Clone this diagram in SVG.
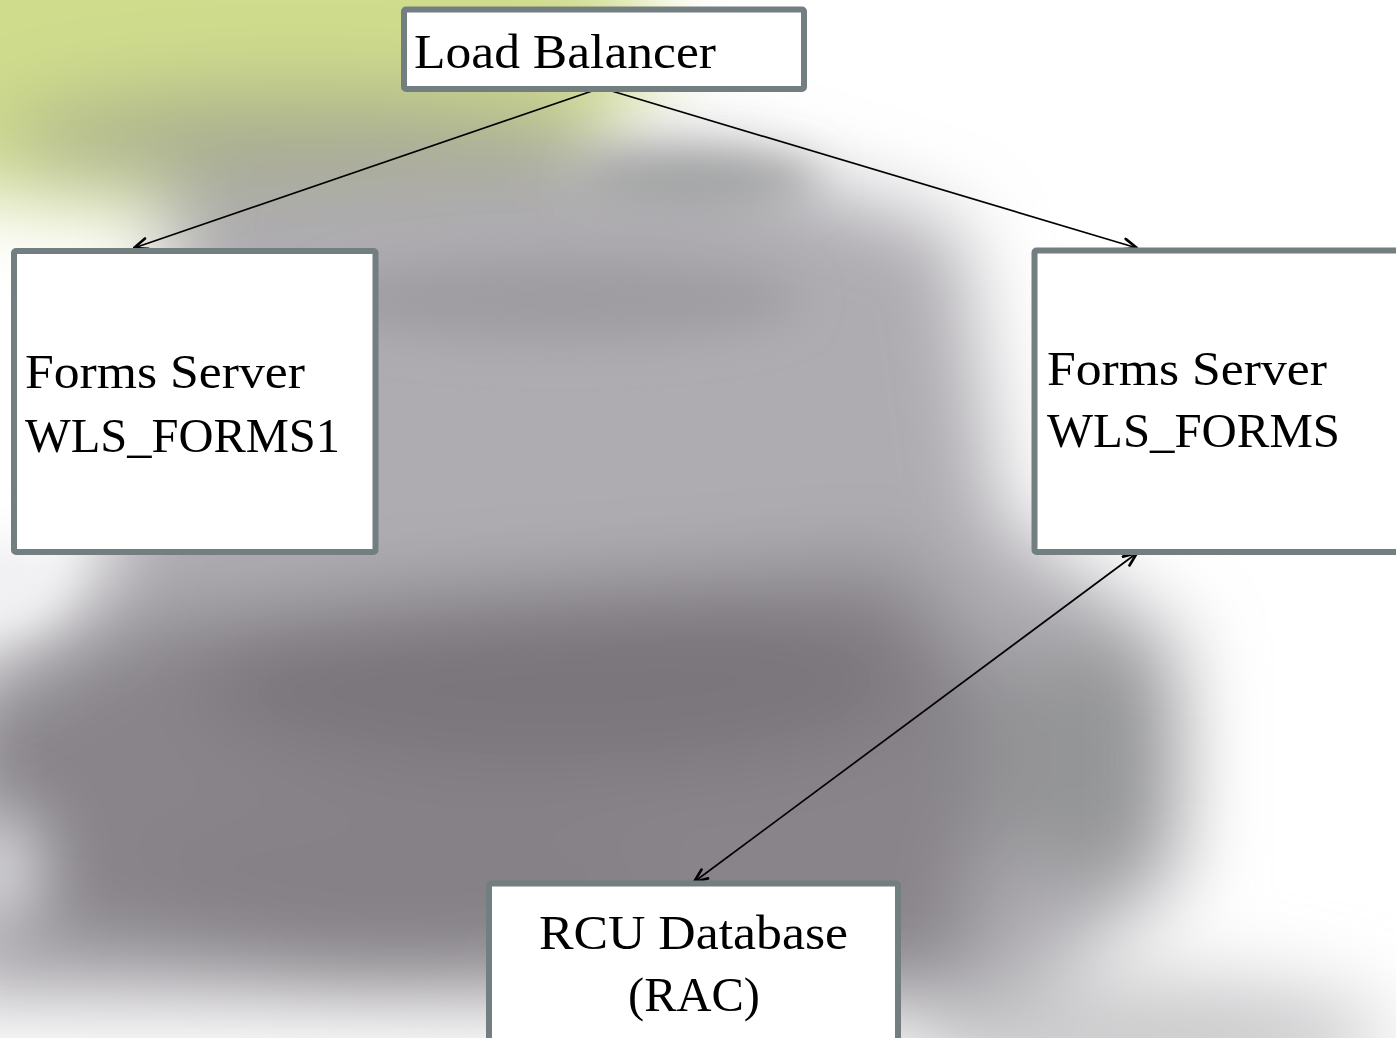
<svg xmlns="http://www.w3.org/2000/svg" width="1396" height="1038" viewBox="0 0 1396 1038">
<style>
.box{fill:#ffffff;stroke:#737e81;stroke-width:6}
.lbl{font-family:"Liberation Serif","Times New Roman",serif;font-size:48px;fill:#000}
.conn{stroke:#000;stroke-width:1.7;fill:none}
</style>
<defs>
<filter id="blur" x="-30%" y="-30%" width="160%" height="160%"><feGaussianBlur stdDeviation="40"/></filter>
<filter id="blur2" x="-30%" y="-30%" width="160%" height="160%"><feGaussianBlur stdDeviation="22"/></filter>
<filter id="blur3" x="-100%" y="-100%" width="300%" height="300%"><feGaussianBlur stdDeviation="35"/></filter>
<marker id="ah" viewBox="0 0 16 14" refX="15" refY="7" markerWidth="16" markerHeight="14" markerUnits="userSpaceOnUse" orient="auto-start-reverse">
<path d="M1.5,1.5 L15,7 L1.5,12.5" fill="none" stroke="#000" stroke-width="2.6" stroke-linecap="round" stroke-linejoin="round"/>
</marker>
</defs>
<g id="background">
<rect width="1396" height="1038" fill="#ffffff"/>
<g filter="url(#blur)">
<ellipse cx="180" cy="40" rx="480" ry="170" fill="#cfdc8c"/>
<ellipse cx="300" cy="140" rx="300" ry="50" fill="#a9ad8e"/>
<path d="M170,190 L700,150 L960,230 L1000,520 L1180,640 L1180,880 L1000,1010 L400,1000 L-60,1000 L-60,680 L90,600 L170,330 Z" fill="#aeacb1"/>
<path d="M140,620 L900,560 L1010,700 L960,980 L300,970 L-40,930 L-40,720 Z" fill="#88848a"/>
<ellipse cx="560" cy="680" rx="360" ry="90" fill="#7a767b"/>
<ellipse cx="400" cy="890" rx="260" ry="90" fill="#858186"/>
<ellipse cx="1080" cy="760" rx="100" ry="120" fill="#949597"/>
<ellipse cx="1150" cy="1038" rx="240" ry="60" fill="#c9c9cb"/>
</g>
<g filter="url(#blur2)">
<ellipse cx="560" cy="300" rx="240" ry="40" fill="#9e9ca0"/>
<ellipse cx="700" cy="180" rx="120" ry="25" fill="#9fa0a0"/>
<ellipse cx="0" cy="580" rx="60" ry="40" fill="#f0f0f3"/>
</g>
<g filter="url(#blur3)">
<ellipse cx="0" cy="870" rx="40" ry="60" fill="#e4e4e8"/>
</g>
</g>
<g id="connectors">
<line class="conn" x1="598" y1="89" x2="134" y2="248" marker-end="url(#ah)"/>
<line class="conn" x1="605" y1="89" x2="1137" y2="248" marker-end="url(#ah)"/>
<line class="conn" x1="1137" y1="553" x2="694" y2="882" marker-start="url(#ah)" marker-end="url(#ah)"/>
</g>
<g id="load-balancer">
<rect class="box" x="404" y="9.5" width="400" height="79.5" rx="2"/>
<text class="lbl" x="414" y="68" textLength="302" lengthAdjust="spacingAndGlyphs">Load Balancer</text>
</g>
<g id="forms-server-1">
<rect class="box" x="14" y="251" width="361.5" height="301" rx="2"/>
<text class="lbl" x="25" y="388" textLength="280" lengthAdjust="spacingAndGlyphs">Forms Server</text>
<text class="lbl" x="25" y="452" textLength="315" lengthAdjust="spacingAndGlyphs">WLS_FORMS1</text>
</g>
<g id="forms-server-2">
<rect class="box" x="1034.5" y="250.5" width="400" height="301.5" rx="2"/>
<text class="lbl" x="1047" y="385" textLength="280" lengthAdjust="spacingAndGlyphs">Forms Server</text>
<text class="lbl" x="1047" y="447" textLength="293" lengthAdjust="spacingAndGlyphs">WLS_FORMS</text>
</g>
<g id="rcu-database">
<rect class="box" x="489" y="883.5" width="409" height="200" rx="2"/>
<text class="lbl" x="539" y="949" textLength="309" lengthAdjust="spacingAndGlyphs">RCU Database</text>
<text class="lbl" x="628" y="1011" textLength="132" lengthAdjust="spacingAndGlyphs">(RAC)</text>
</g>
</svg>
